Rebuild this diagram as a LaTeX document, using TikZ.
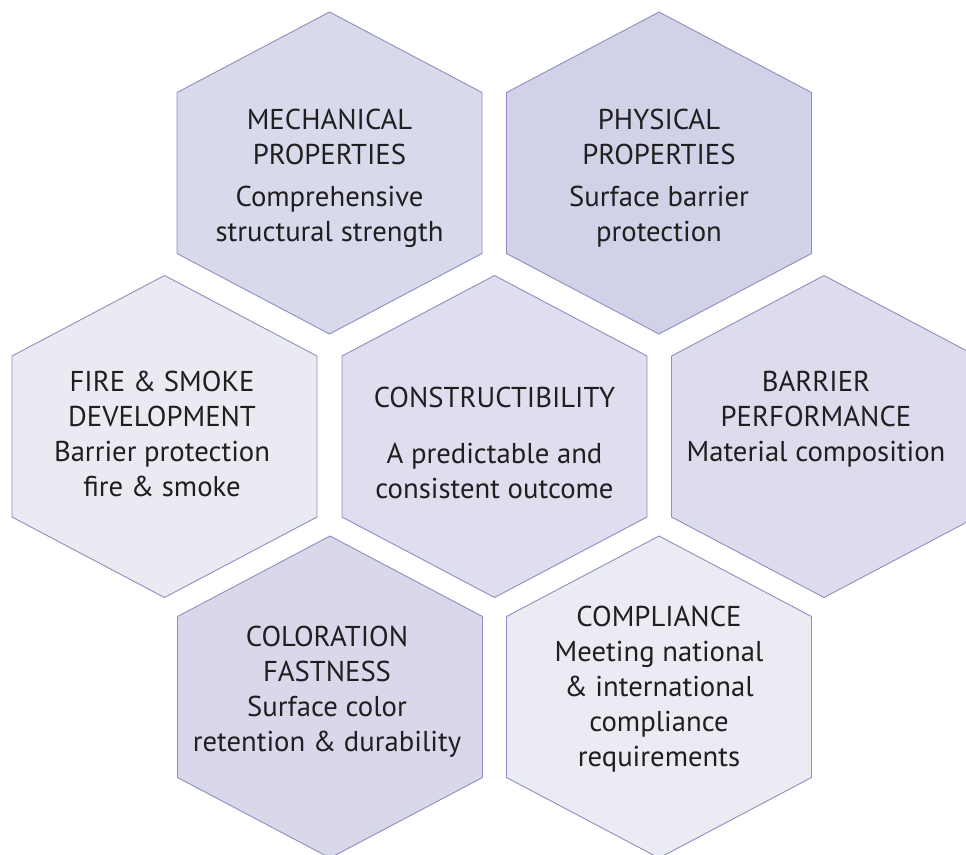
\documentclass[tikz,border=0pt]{standalone}
\usepackage{fontspec}
\setmainfont{PT Sans}
\usepackage{tikz}

% one hexagonal cell: centre x, centre y, fill colour
\newcommand{\hexcell}[3]{%
  \draw[cell, fill=#3] (#1,#2) +(0,-161) -- +(152.5,-80.5) -- +(152.5,80.5)
    -- +(0,161) -- +(-152.5,80.5) -- +(-152.5,-80.5) -- cycle;}

\definecolor{hexline}{HTML}{8E8EC2}
\definecolor{hexA}{HTML}{D9D9EC}
\definecolor{hexB}{HTML}{D1D1E7}
\definecolor{hexC}{HTML}{EAEAF3}
\definecolor{hexD}{HTML}{DEDEEE}
\definecolor{hexE}{HTML}{DCDCEC}
\definecolor{hexF}{HTML}{D8D8EA}
\definecolor{hexG}{HTML}{EBEBF4}

\begin{document}
\begin{tikzpicture}[x=1pt,y=-1pt]
\tikzset{cell/.style = {draw=hexline, line width=0.9pt},
         celltext/.style = {anchor=north, inner sep=0pt, align=center,
                            text=black!88, font=\fontsize{28.7}{35}\selectfont}}

\useasboundingbox (0,0) rectangle (966,854);
\clip (0,0) rectangle (966,854);

% top row
\hexcell{329.5}{173}{hexA}
\hexcell{659}{173}{hexB}
% middle row
\hexcell{164.5}{436.5}{hexC}
\hexcell{494.5}{436.5}{hexD}
\hexcell{824}{436.5}{hexE}
% bottom row
\hexcell{330}{697}{hexF}
\hexcell{659}{697}{hexG}

\node[celltext] (mech) at (329.5,109) {MECHANICAL\\PROPERTIES\\[7pt]Comprehensive\\structural strength};
\node[celltext] (phys) at (659,109) {PHYSICAL\\PROPERTIES\\[7pt]Surface barrier\\protection};
\node[celltext] (fire) at (162,371) {FIRE \& SMOKE\\DEVELOPMENT\\Barrier protection\\fire \& smoke};
\node[celltext] (build) at (494.5,387) {CONSTRUCTIBILITY\\[21pt]A predictable and\\consistent outcome};
\node[celltext] (barrier) at (816,371) {BARRIER\\PERFORMANCE\\Material composition};
\node[celltext] (colour) at (327,626) {COLORATION\\FASTNESS\\Surface color\\retention \& durability};
\node[celltext] (comply) at (659,606) {COMPLIANCE\\Meeting national\\\& international\\compliance\\requirements};

\end{tikzpicture}
\end{document}
